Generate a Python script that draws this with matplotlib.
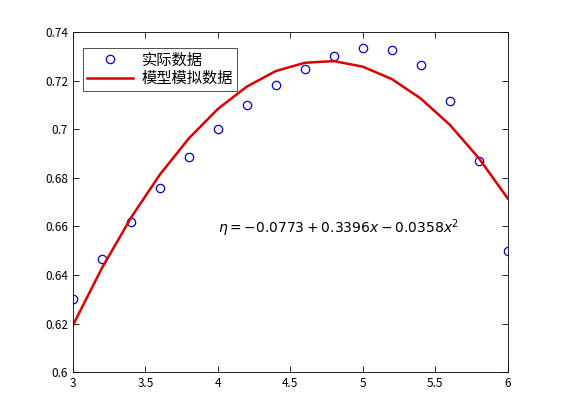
import numpy as np
import matplotlib
matplotlib.use("Agg")
import matplotlib.pyplot as plt

plt.rcParams['font.family'] = ['Noto Sans CJK SC', 'DejaVu Sans']
plt.rcParams['axes.unicode_minus'] = False

# data
x_vals = [3.0, 3.2, 3.4, 3.6, 3.8, 4.0, 4.2, 4.4, 4.6, 4.8, 5.0, 5.2, 5.4, 5.6, 5.8, 6.0]
measured = [0.630, 0.6465, 0.6618, 0.6758, 0.6885, 0.7001, 0.7099, 0.7182,
            0.7248, 0.7301, 0.7334, 0.7326, 0.7264, 0.7116, 0.6869, 0.6498]
model = [0.6193, 0.6428, 0.6635, 0.6813, 0.6962, 0.7083, 0.7175, 0.7239,
         0.7273, 0.7280, 0.7257, 0.7206, 0.7126, 0.7018, 0.6881, 0.6715]

x_ticks = [3, 3.5, 4, 4.5, 5, 5.5, 6]
x_labels = ['3', '3.5', '4', '4.5', '5', '5.5', '6']
y_ticks = [0.6, 0.62, 0.64, 0.66, 0.68, 0.7, 0.72, 0.74]
y_labels = ['0.6', '0.62', '0.64', '0.66', '0.68', '0.7', '0.72', '0.74']

fig = plt.figure(figsize=(5.61, 4.2), dpi=100)
ax = fig.add_axes([0.13, 0.114, 0.775, 0.81])

ax.plot(x_vals, measured, 'o', mfc='none', mec='#0000cc', ms=6, mew=0.9, label='实际数据')
ax.plot(x_vals, model, '-', color='#dd0000', lw=1.8, label='模型模拟数据')

ax.set_xlim(3, 6)
ax.set_ylim(0.6, 0.74)
ax.set_xticks(x_ticks)
ax.set_xticklabels(x_labels)
ax.set_yticks(y_ticks)
ax.set_yticklabels(y_labels)
ax.tick_params(direction='in', top=True, right=True, labelsize=8.5, length=4, width=0.6)
for s in ax.spines.values():
    s.set_linewidth(0.6)

ax.text(4.0, 0.6593, r'$\eta=-0.0773+0.3396x-0.0358x^2$', fontsize=10,
        va='center', ha='left', family='DejaVu Sans')

leg = ax.legend(loc='upper left', bbox_to_anchor=(0.023, 0.953), fontsize=11,
                frameon=True, fancybox=False, edgecolor='black',
                borderaxespad=0, handlelength=3.0, borderpad=0.25,
                labelspacing=0.1, handletextpad=0.6)
leg.get_frame().set_linewidth(0.6)

fig.savefig('out.png', dpi=100)
